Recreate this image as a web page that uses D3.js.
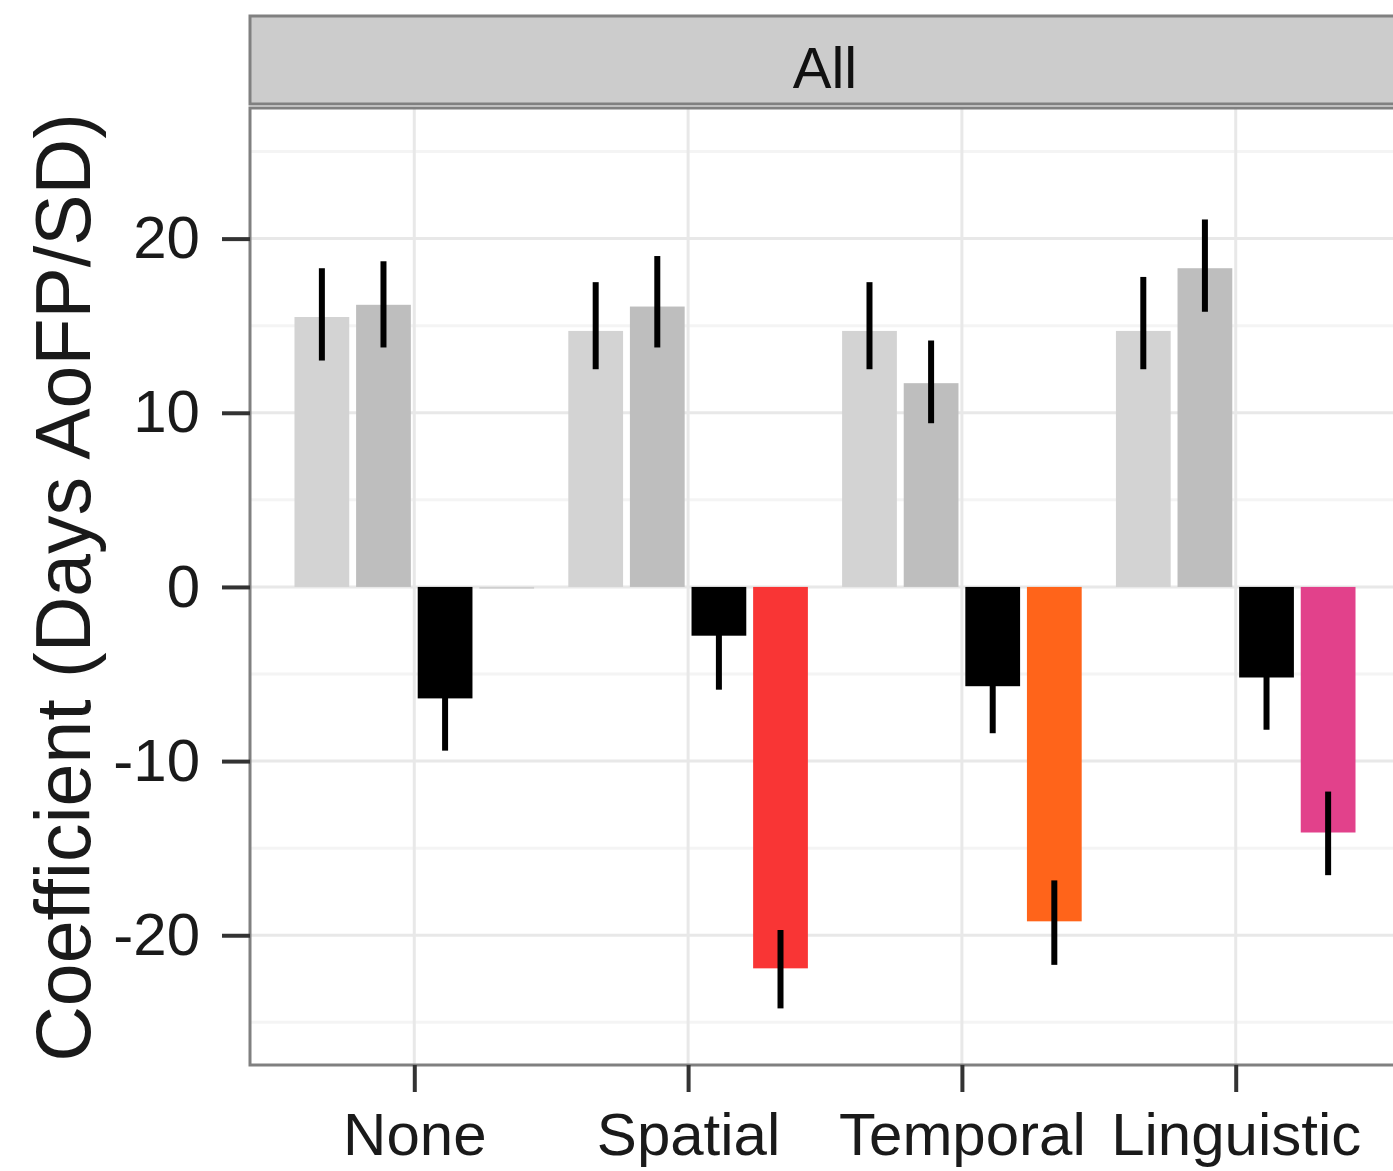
<!DOCTYPE html>
<html>
<head>
<meta charset="utf-8">
<script src="https://cdn.jsdelivr.net/npm/d3@7"></script>
<style>
  body { margin: 0; background: #fff; }
  svg text { font-family: "Liberation Sans", Arial, sans-serif; }
</style>
</head>
<body>
<svg id="chart" width="1393" height="1171"></svg>
<script>
// data
const categories = ["None", "Spatial", "Temporal", "Linguistic"]
const series = ["s1", "s2", "s3", "s4"]
const coef = {
    s1: [15.5, 14.7, 14.7, 14.7],
    s2: [16.2, 16.1, 11.7, 18.3],
    s3: [-6.4, -2.8, -5.7, -5.2],
    s4: [-0.1, -21.9, -19.2, -14.1]
}
const lower = {
    s1: [13.0, 12.5, 12.5, 12.5],
    s2: [13.75, 13.75, 9.4, 15.8],
    s3: [-9.4, -5.9, -8.4, -8.2],
    s4: [-0.1, -24.2, -21.7, -16.55]
}
const upper = {
    s1: [18.3, 17.5, 17.5, 17.8],
    s2: [18.7, 19.0, 14.15, 21.1],
    s3: [-3.4, -0.5, -3.0, -2.2],
    s4: [-0.1, -19.7, -16.85, -11.75]
}
const fourthColors = ["#cfcfcf", "#f93535", "#ff641a", "#e2418b"]
const yTicks = [-20, -10, 0, 10, 20]
const yMinor = [-25, -15, -5, 5, 15, 25]

const svg = d3.select("#chart")
const panel = {left: 250, right: 1400, top: 108, bottom: 1065}

const x = d3.scalePoint()
            .domain(categories)
            .range([panel.left, panel.right])
            .padding(0.6)
const step = x.step()
const dodge = d3.scaleBand()
            .domain(series)
            .range([-0.45 * step, 0.45 * step])
const barW = 0.2 * step

const y = d3.scaleLinear()
            .domain([-27.45, 27.5])
            .range([panel.bottom, panel.top])

function fill(s, i){
    if(s === "s1") return "#d3d3d3"
    if(s === "s2") return "#bebebe"
    if(s === "s3") return "#000"
    return fourthColors[i]
}

// strip
svg.append("rect")
    .attr("x", panel.left).attr("y", 16)
    .attr("width", panel.right - panel.left).attr("height", panel.top - 16 - 4)
    .attr("fill", "#cccccc").attr("stroke", "#808080").attr("stroke-width", 3)
svg.append("text")
    .attr("x", (panel.left + panel.right) / 2).attr("y", 88)
    .attr("text-anchor", "middle").attr("font-size", 58).attr("fill", "#111")
    .text("All")

// grid
const grid = svg.append("g")
grid.selectAll(".minor").data(yMinor).enter().append("line")
    .attr("x1", panel.left).attr("x2", panel.right)
    .attr("y1", d => y(d)).attr("y2", d => y(d))
    .attr("stroke", "#f4f4f4").attr("stroke-width", 3)
grid.selectAll(".major").data(yTicks).enter().append("line")
    .attr("x1", panel.left).attr("x2", panel.right)
    .attr("y1", d => y(d)).attr("y2", d => y(d))
    .attr("stroke", "#e8e8e8").attr("stroke-width", 3)
grid.selectAll(".vmajor").data(categories).enter().append("line")
    .attr("x1", d => x(d)).attr("x2", d => x(d))
    .attr("y1", panel.top).attr("y2", panel.bottom)
    .attr("stroke", "#e8e8e8").attr("stroke-width", 3)

// bars
const rows = []
series.forEach(s => {
    categories.forEach((c, i) => {
        rows.push({s: s, c: c, i: i, v: coef[s][i], lo: lower[s][i], hi: upper[s][i]})
    })
})
const cx = d => x(d.c) + dodge(d.s) + dodge.bandwidth() / 2

svg.append("g").selectAll("rect")
    .data(rows)
    .enter().append("rect")
    .attr("x", d => cx(d) - barW / 2)
    .attr("width", barW)
    .attr("y", d => y(Math.max(0, d.v)))
    .attr("height", d => Math.abs(y(d.v) - y(0)))
    .attr("fill", d => fill(d.s, d.i))

svg.append("g").selectAll("line")
    .data(rows.filter(d => d.hi !== d.lo))
    .enter().append("line")
    .attr("x1", cx).attr("x2", cx)
    .attr("y1", d => y(d.hi)).attr("y2", d => y(d.lo))
    .attr("stroke", "#000").attr("stroke-width", 6)

// panel border
svg.append("rect")
    .attr("x", panel.left).attr("y", panel.top)
    .attr("width", panel.right - panel.left).attr("height", panel.bottom - panel.top)
    .attr("fill", "none").attr("stroke", "#808080").attr("stroke-width", 3)

// axes
const yAxis = svg.append("g")
    .attr("transform", `translate(${panel.left},0)`)
    .call(d3.axisLeft(y).tickValues(yTicks).tickSize(28).tickPadding(22)
        .tickFormat(d => String(d)))
yAxis.select(".domain").remove()
yAxis.selectAll("line").attr("stroke", "#333").attr("stroke-width", 4)
yAxis.selectAll("text").attr("font-size", 60).attr("fill", "#1a1a1a")
    .attr("font-family", "Liberation Sans, Arial, sans-serif")

const xAxis = svg.append("g")
    .attr("transform", `translate(0,${panel.bottom})`)
    .call(d3.axisBottom(x).tickSize(27).tickPadding(20))
xAxis.select(".domain").remove()
xAxis.selectAll("line").attr("stroke", "#333").attr("stroke-width", 4)
xAxis.selectAll("text").attr("font-size", 60).attr("fill", "#1a1a1a")
    .attr("font-family", "Liberation Sans, Arial, sans-serif")

svg.append("text")
    .attr("transform", `translate(90,${(panel.top + panel.bottom) / 2 + 1}) rotate(-90)`)
    .attr("text-anchor", "middle").attr("font-size", 77).attr("fill", "#1a1a1a")
    .text("Coefficient (Days AoFP/SD)")
</script>
</body>
</html>
